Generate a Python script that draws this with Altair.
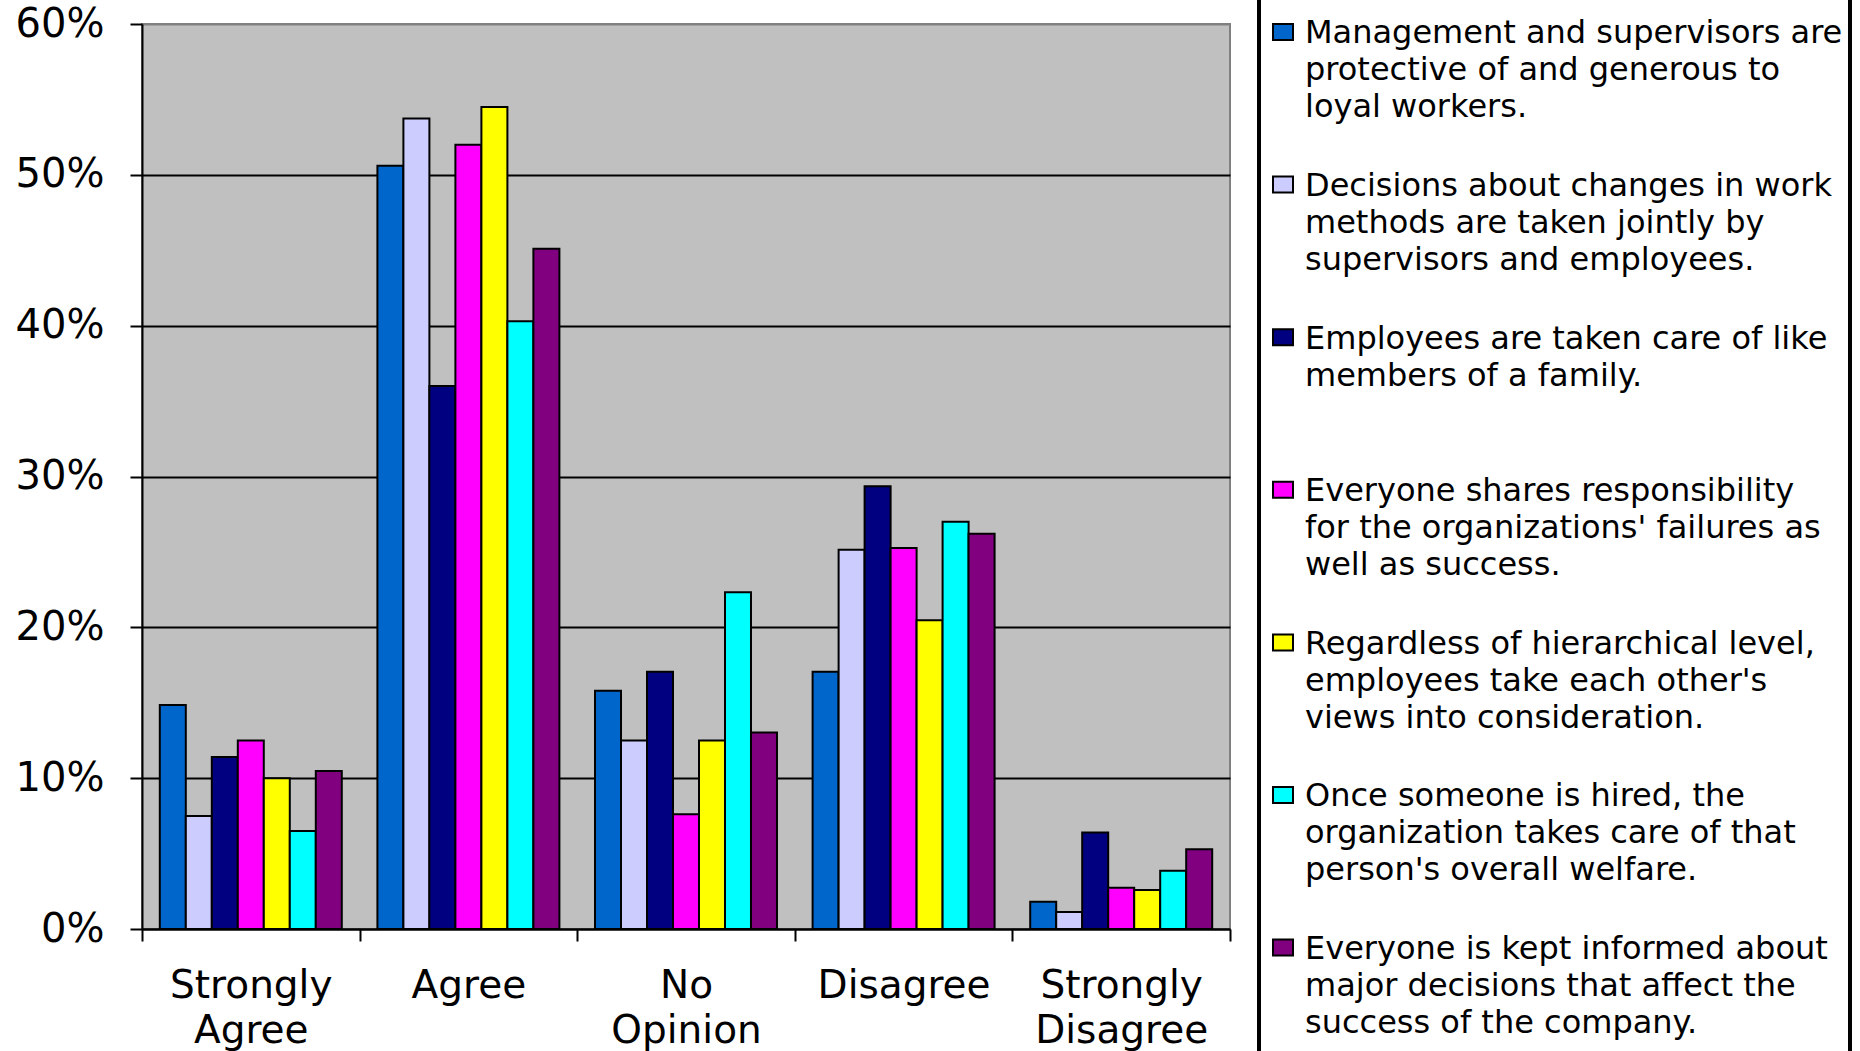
import altair as alt
import pandas as pd

# Response categories along the x axis
categories = ["Strongly Agree", "Agree", "No Opinion", "Disagree", "Strongly Disagree"]

# Survey statements (one bar series each) and their wrapped legend text
statements = [
    "Management and supervisors are protective of and generous to loyal workers.",
    "Decisions about changes in work methods are taken jointly by supervisors and employees.",
    "Employees are taken care of like members of a family.",
    "Everyone shares responsibility for the organizations' failures as well as success.",
    "Regardless of hierarchical level, employees take each other's views into consideration.",
    "Once someone is hired, the organization takes care of that person's overall welfare.",
    "Everyone is kept informed about major decisions that affect the success of the company.",
]
legend_text = [
    "Management and supervisors are\nprotective of and generous to\nloyal workers.",
    "Decisions about changes in work\nmethods are taken jointly by\nsupervisors and employees.",
    "Employees are taken care of like\nmembers of a family.",
    "Everyone shares responsibility\nfor the organizations' failures as\nwell as success.",
    "Regardless of hierarchical level,\nemployees take each other's\nviews into consideration.",
    "Once someone is hired, the\norganization takes care of that\nperson's overall welfare.",
    "Everyone is kept informed about\nmajor decisions that affect the\nsuccess of the company.",
]
colors = ["#0066CC", "#CCCCFF", "#000080", "#FF00FF", "#FFFF00", "#00FFFF", "#800080"]

# Percent of respondents per category, one list per statement
pct_management = [14.85, 50.6, 15.8, 17.06, 1.8]
pct_decisions = [7.5, 53.74, 12.5, 25.15, 1.12]
pct_family = [11.4, 36.0, 17.06, 29.36, 6.4]
pct_responsibility = [12.5, 52.0, 7.6, 25.26, 2.74]
pct_hierarchy = [10.0, 54.5, 12.5, 20.47, 2.58]
pct_welfare = [6.5, 40.3, 22.33, 27.0, 3.87]
pct_informed = [10.47, 45.1, 13.03, 26.2, 5.28]

series_values = [pct_management, pct_decisions, pct_family, pct_responsibility,
                 pct_hierarchy, pct_welfare, pct_informed]

rows = []
for name, vals in zip(statements, series_values):
    for cat, v in zip(categories, vals):
        rows.append({"category": cat, "series": name, "value": v / 100.0})
bars_df = pd.DataFrame(rows)

legend_df = pd.DataFrame({
    "series": statements,
    "idx": list(range(len(statements))),
    "label": legend_text,
})

FONT = "DejaVu Sans"
color_scale = alt.Scale(domain=statements, range=colors)

bars = alt.Chart(bars_df).mark_bar(stroke="black", strokeWidth=2).encode(
    x=alt.X(
        "category:N",
        sort=categories,
        scale=alt.Scale(paddingInner=0, paddingOuter=0),
        axis=alt.Axis(
            title=None,
            labelAngle=0,
            labelExpr="split(datum.label, ' ')",
            labelFont=FONT,
            labelFontSize=39,
            labelLineHeight=45,
            labelColor="black",
            labelPadding=25,
            labelLimit=400,
            tickBand="extent",
            tickSize=12,
            tickColor="black",
            tickWidth=2,
            domainColor="black",
            domainWidth=2,
            grid=False,
        ),
    ),
    # gap between category groups comes from the outer padding of the offset scale
    xOffset=alt.XOffset("series:N", sort=statements,
                        scale=alt.Scale(paddingInner=0, paddingOuter=0.685)),
    y=alt.Y(
        "value:Q",
        scale=alt.Scale(domain=[0, 0.6], nice=False),
        axis=alt.Axis(
            title=None,
            values=[0, 0.1, 0.2, 0.3, 0.4, 0.5, 0.6],
            format=".0%",
            labelFont=FONT,
            labelFontSize=40,
            labelColor="black",
            labelPadding=26,
            tickSize=12,
            tickColor="black",
            tickWidth=2,
            domainColor="black",
            domainWidth=2,
            grid=True,
            gridColor={"condition": {"test": "datum.value >= 0.6", "value": "#808080"},
                       "value": "black"},
            gridWidth=2,
        ),
    ),
    color=alt.Color("series:N", scale=color_scale, legend=None),
)

# Legend: swatches and wrapped statement text to the right of the plot
legend_y = alt.Y("idx:Q", scale=alt.Scale(domain=[0, 6], range=[8, 923.6]), axis=None)

swatches = alt.Chart(legend_df).mark_point(
    shape="M-1,-0.8L1,-0.8L1,0.8L-1,0.8Z",
    size=400,
    filled=True,
    opacity=1,
    stroke="black",
    strokeWidth=2,
).encode(
    x=alt.value(1141),
    y=legend_y,
    fill=alt.Color("series:N", scale=color_scale, legend=None),
)

labels = alt.Chart(legend_df).mark_text(
    align="left",
    baseline="top",
    dy=-13.6,
    font=FONT,
    fontSize=32,
    lineHeight=37,
    lineBreak="\n",
    color="black",
).encode(
    x=alt.value(1163),
    y=legend_y,
    text="label:N",
)

border_left = alt.Chart(legend_df).mark_rule(color="black", strokeWidth=3).encode(
    x=alt.value(1117), y=alt.value(-24), y2=alt.value(1027)
)
border_right = alt.Chart(legend_df).mark_rule(color="black", strokeWidth=3).encode(
    x=alt.value(1708), y=alt.value(-24), y2=alt.value(1027)
)

chart = alt.layer(
    bars, swatches, labels, border_left, border_right
).resolve_scale(
    y="independent"
).properties(
    width=1088,
    height=905,
    autosize=alt.AutoSizeParams(type="none"),
    padding={"left": 142, "top": 24, "right": 630, "bottom": 122},
    background="white",
).configure_view(
    fill="#C0C0C0",
    stroke="#808080",
    strokeWidth=2,
)

chart.save("out.html", embed_options={"renderer": "svg", "actions": False})
